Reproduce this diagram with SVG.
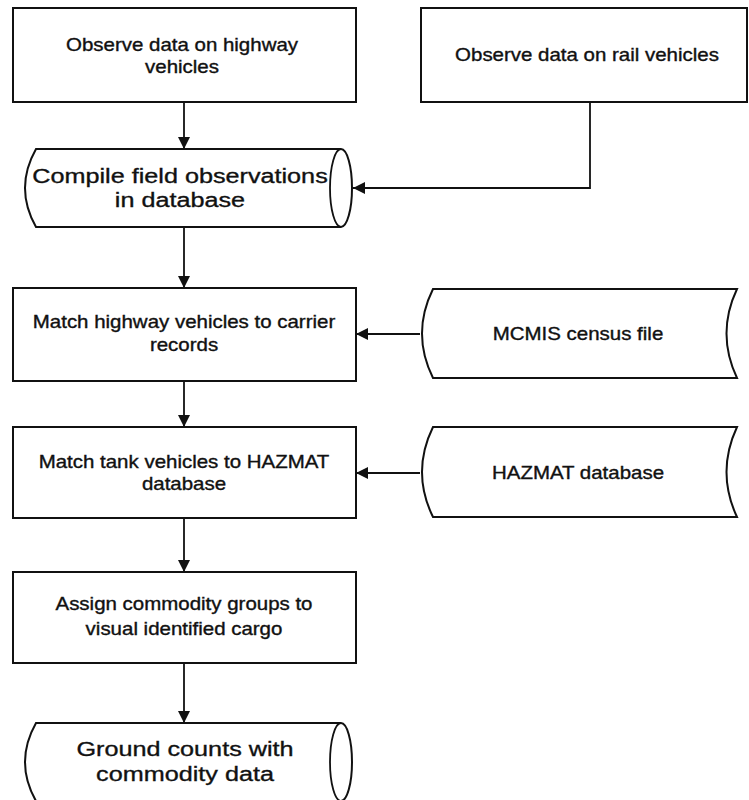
<svg xmlns="http://www.w3.org/2000/svg" width="749" height="800" viewBox="0 0 749 800">
  <style>
    .shape { fill: #ffffff; stroke: #111111; stroke-width: 2; }
    .wire { fill: none; stroke: #111111; stroke-width: 1.8; }
    .lbl { font-family: "Liberation Sans", Arial, Helvetica, sans-serif; fill: #111111; stroke: #111111; stroke-width: 0.35; text-anchor: middle; }
    .s17 { font-size: 17.5px; }
    .s20 { font-size: 21px; }
  </style>
  <defs>
    <marker id="head" markerUnits="userSpaceOnUse" markerWidth="12" markerHeight="12" refX="12" refY="6" orient="auto">
      <path d="M0,0 L12,6 L0,12 Z" fill="#111111"/>
    </marker>
  </defs>
  <rect width="749" height="800" fill="#ffffff"/>

  <!-- connectors -->
  <g id="connectors">
    <line class="wire" x1="184" y1="102" x2="184" y2="149" marker-end="url(#head)"/>
    <polyline class="wire" points="590,102 590,188 353,188" marker-end="url(#head)"/>
    <line class="wire" x1="184" y1="227" x2="184" y2="288" marker-end="url(#head)"/>
    <line class="wire" x1="184" y1="381" x2="184" y2="427" marker-end="url(#head)"/>
    <line class="wire" x1="420" y1="334" x2="356" y2="334" marker-end="url(#head)"/>
    <line class="wire" x1="184" y1="518" x2="184" y2="572" marker-end="url(#head)"/>
    <line class="wire" x1="420" y1="473" x2="356" y2="473" marker-end="url(#head)"/>
    <line class="wire" x1="184" y1="663" x2="184" y2="723" marker-end="url(#head)"/>
  </g>

  <!-- process: highway observations -->
  <g id="observe-highway">
    <rect class="shape" x="13" y="8" width="343" height="94"/>
    <g transform="translate(182 0) scale(1.17 1)">
      <text class="lbl s17" x="0" y="51">Observe data on highway</text>
      <text class="lbl s17" x="0" y="73">vehicles</text>
    </g>
  </g>

  <!-- process: rail observations -->
  <g id="observe-rail">
    <rect class="shape" x="421" y="8" width="326" height="94"/>
    <g transform="translate(587 0) scale(1.17 1)">
      <text class="lbl s17" x="0" y="61">Observe data on rail vehicles</text>
    </g>
  </g>

  <!-- stored data: compiled field observations -->
  <g id="compile-db">
    <path class="shape" d="M36,149 L341,149 A11,39 0 0 1 341,227 L36,227 Q14,188 36,149 Z"/>
    <path class="wire" d="M341,149 A11,39 0 0 0 341,227"/>
    <g transform="translate(180 0) scale(1.2 1)">
      <text class="lbl s20" x="0" y="183">Compile field observations</text>
      <text class="lbl s20" x="0" y="207">in database</text>
    </g>
  </g>

  <!-- process: carrier matching -->
  <g id="match-carrier">
    <rect class="shape" x="13" y="288" width="343" height="93"/>
    <g transform="translate(184 0) scale(1.17 1)">
      <text class="lbl s17" x="0" y="328">Match highway vehicles to carrier</text>
      <text class="lbl s17" x="0" y="351">records</text>
    </g>
  </g>

  <!-- stored data: MCMIS census file -->
  <g id="mcmis">
    <path class="shape" d="M433,289 L737,289 Q716,333.5 737,378 L433,378 Q411,333.5 433,289 Z"/>
    <g transform="translate(578 0) scale(1.17 1)">
      <text class="lbl s17" x="0" y="340">MCMIS census file</text>
    </g>
  </g>

  <!-- process: HAZMAT matching -->
  <g id="match-hazmat">
    <rect class="shape" x="13" y="427" width="343" height="91"/>
    <g transform="translate(184 0) scale(1.17 1)">
      <text class="lbl s17" x="0" y="468">Match tank vehicles to HAZMAT</text>
      <text class="lbl s17" x="0" y="490">database</text>
    </g>
  </g>

  <!-- stored data: HAZMAT database -->
  <g id="hazmat-db">
    <path class="shape" d="M433,427 L737,427 Q716,472 737,517 L433,517 Q411,472 433,427 Z"/>
    <g transform="translate(578 0) scale(1.17 1)">
      <text class="lbl s17" x="0" y="479">HAZMAT database</text>
    </g>
  </g>

  <!-- process: commodity assignment -->
  <g id="assign-commodity">
    <rect class="shape" x="13" y="572" width="343" height="91"/>
    <g transform="translate(184 0) scale(1.17 1)">
      <text class="lbl s17" x="0" y="610">Assign commodity groups to</text>
      <text class="lbl s17" x="0" y="635">visual identified cargo</text>
    </g>
  </g>

  <!-- stored data: ground counts -->
  <g id="ground-counts">
    <path class="shape" d="M36,723 L341,723 A11,39 0 0 1 341,801 L36,801 Q14,762 36,723 Z"/>
    <path class="wire" d="M341,723 A11,39 0 0 0 341,801"/>
    <g transform="translate(185 0) scale(1.2 1)">
      <text class="lbl s20" x="0" y="756">Ground counts with</text>
      <text class="lbl s20" x="0" y="781">commodity data</text>
    </g>
  </g>
</svg>
